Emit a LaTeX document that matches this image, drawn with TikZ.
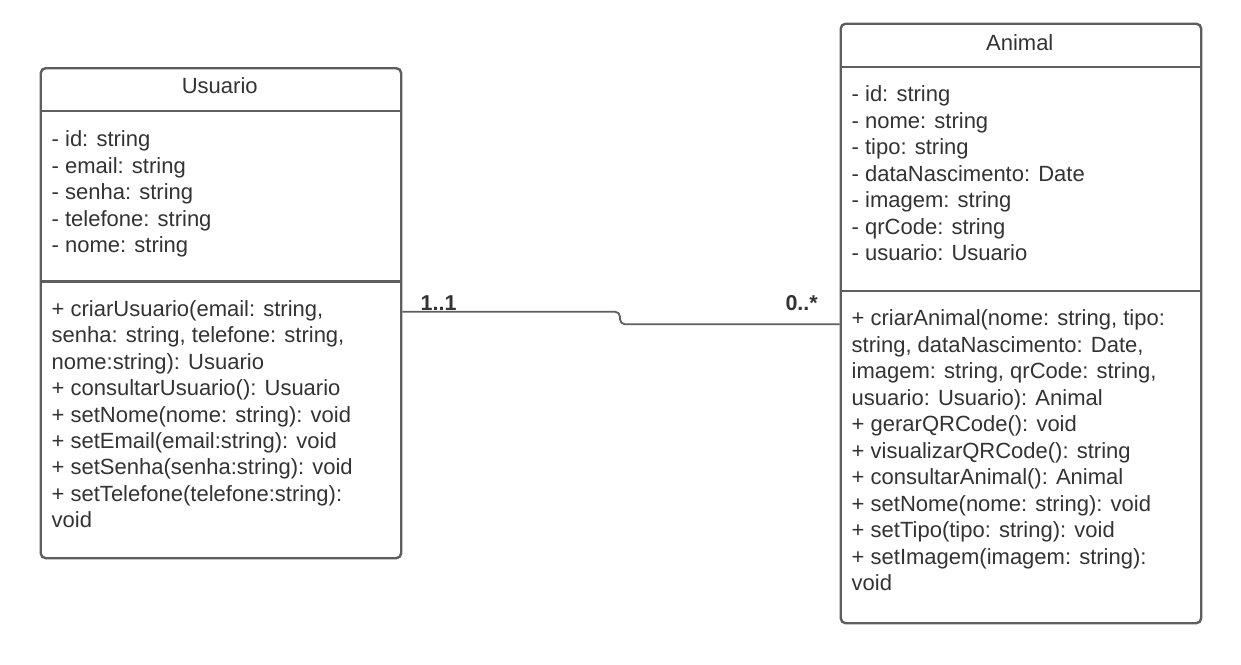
\documentclass[tikz,border=0pt]{standalone}
\usepackage{fontspec}
\setmainfont{Liberation Sans}
\definecolor{linec}{HTML}{5E5E5E}
\definecolor{textc}{HTML}{333333}
\tikzset{
  classbox/.style={draw=linec, line width=2.4pt, rounded corners=5pt, inner sep=0pt, anchor=north west, fill=white},
  divider/.style={draw=linec, line width=2.4pt},
  txt/.style={anchor=base west, inner sep=0pt, text=textc, font=\fontsize{22}{26.5}\selectfont},
  ttl/.style={anchor=base, inner sep=0pt, text=textc, font=\fontsize{22}{26.5}\selectfont},
  mult/.style={inner sep=0pt, text=textc, font=\fontsize{21.5}{24}\selectfont\bfseries},
  conn/.style={draw=linec, line width=1.8pt, rounded corners=5pt}
}
\begin{document}
\begin{tikzpicture}[x=1pt,y=-1pt]
\useasboundingbox (0,0) rectangle (1241,664);
% Usuario
\node[classbox, minimum width=360.5pt, minimum height=490pt] (usuario) at (39.5,67) {};
\draw[divider] (usuario.west |- 0,111) -- (usuario.east |- 0,111);
\draw[divider] (usuario.west |- 0,281.5) -- (usuario.east |- 0,281.5);
\node[ttl] (usuarioT) at (219.75,93.3) {Usuario};
\foreach \t [count=\i from 0] in {{- id: string},{- email: string},{- senha: string},{- telefone: string},{- nome: string}}
  \node[txt] (ua\i) at (51.5,146.5+26.5*\i) {\t};
\foreach \t [count=\i from 0] in {{+ criarUsuario(email: string,},{senha: string, telefone: string,},{nome:string): Usuario},{+ consultarUsuario(): Usuario},{+ setNome(nome: string): void},{+ setEmail(email:string): void},{+ setSenha(senha:string): void},{+ setTelefone(telefone:string):},{void}}
  \node[txt] (um\i) at (51.5,316.5+26.4*\i) {\t};
% Animal
\node[classbox, minimum width=360.5pt, minimum height=599.5pt] (animal) at (839.5,22.5) {};
\draw[divider] (animal.west |- 0,66.7) -- (animal.east |- 0,66.7);
\draw[divider] (animal.west |- 0,291) -- (animal.east |- 0,291);
\node[ttl] (animalT) at (1019.75,50) {Animal};
\foreach \t [count=\i from 0] in {{- id: string},{- nome: string},{- tipo: string},{- dataNascimento: Date},{- imagem: string},{- qrCode: string},{- usuario: Usuario}}
  \node[txt] (aa\i) at (851.5,101.7+26.5*\i) {\t};
\foreach \t [count=\i from 0] in {{+ criarAnimal(nome: string, tipo:},{string, dataNascimento: Date,},{imagem: string, qrCode: string,},{usuario: Usuario): Animal},{+ gerarQRCode(): void},{+ visualizarQRCode(): string},{+ consultarAnimal(): Animal},{+ setNome(nome: string): void},{+ setTipo(tipo: string): void},{+ setImagem(imagem: string):},{void}}
  \node[txt] (am\i) at (851.5,325.5+26.5*\i) {\t};
% association
\coordinate (b1) at (620,311.7);
\coordinate (b2) at (620,324.3);
\draw[conn] (usuario.east |- b1) -- (b1) -- (b2) -- (animal.west |- b2);
\node[mult, anchor=base west] (m1) at (420.5,310.7) {1..1};
\node[mult, anchor=base east] (m2) at (818,310.7) {0..*};
\end{tikzpicture}
\end{document}
